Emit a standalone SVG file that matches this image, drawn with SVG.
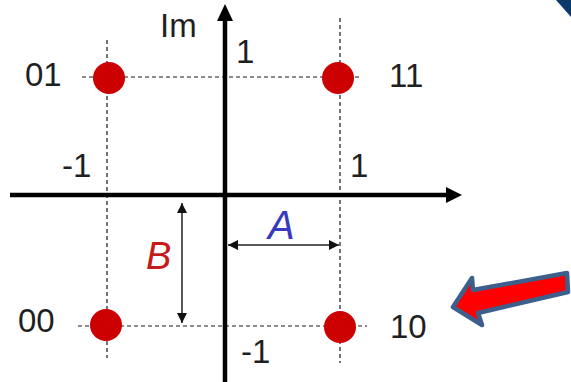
<svg xmlns="http://www.w3.org/2000/svg" width="571" height="382" viewBox="0 0 571 382">
  <defs>
    <style>
      .lbl { font-family: "Liberation Sans", Arial, sans-serif; font-size: 33px; fill: #1f1f1f; }
      .dash { stroke: #1a1a1a; stroke-width: 1.2; stroke-dasharray: 4 3; fill: none; }
      .axis { stroke: #000; stroke-width: 4.5; fill: none; }
      .dim { stroke: #222; stroke-width: 1.5; fill: none; }
      .dot { fill: #cc0000; }
    </style>
    <marker id="ah" viewBox="0 0 10 10" refX="10" refY="5" markerWidth="10" markerHeight="10" markerUnits="userSpaceOnUse" orient="auto-start-reverse">
      <path d="M0,0 L10,5 L0,10 z" fill="#111"/>
    </marker>
  </defs>
  <rect width="571" height="382" fill="#fff"/>
  <polygon points="556,0 571,0 571,17" fill="#0b3a6a"/>

  <g id="connectors">
    <line class="dash" x1="107" y1="40" x2="107" y2="358"/>
    <line class="dash" x1="340" y1="18" x2="340" y2="363"/>
    <line class="dash" x1="82" y1="77" x2="362" y2="77"/>
    <line class="dash" x1="78" y1="326" x2="367" y2="326"/>
    <line class="axis" x1="10" y1="195" x2="448" y2="195"/>
    <polygon points="462,195 446,187 446,203" fill="#000"/>
    <line class="axis" x1="225" y1="382" x2="225" y2="18"/>
    <polygon points="225,4 217,21 233,21" fill="#000"/>
    <line class="dim" x1="228" y1="245" x2="339" y2="245" marker-start="url(#ah)" marker-end="url(#ah)"/>
    <line class="dim" x1="182" y1="203" x2="182" y2="323" marker-start="url(#ah)" marker-end="url(#ah)"/>
  </g>

  <g id="p01"><circle class="dot" cx="109" cy="78" r="16"/><text class="lbl" x="25" y="86">01</text></g>
  <g id="p11"><circle class="dot" cx="338" cy="78" r="16"/><text class="lbl" x="389" y="87">11</text></g>
  <g id="p00"><circle class="dot" cx="106" cy="325" r="16"/><text class="lbl" x="18" y="332">00</text></g>
  <g id="p10"><circle class="dot" cx="340" cy="327" r="16"/><text class="lbl" x="390" y="338">10</text></g>

  <g id="labels">
    <text class="lbl" x="160" y="37">Im</text>
    <text class="lbl" x="236" y="63">1</text>
    <text class="lbl" x="62" y="177">-1</text>
    <text class="lbl" x="350" y="177">1</text>
    <text class="lbl" x="241" y="363">-1</text>
    <text x="268" y="239" style="font-family:'Liberation Sans',Arial,sans-serif;font-size:40px;font-style:italic;fill:#3a3ac0">A</text>
    <text x="146" y="269" style="font-family:'Liberation Sans',Arial,sans-serif;font-size:38px;font-style:italic;fill:#c41a1a">B</text>
  </g>

  <g id="pointer">
    <polygon points="453,307 472,278 473,290 567,273 568,292 478,313 482,325" fill="#ff0000" stroke="#3d5f8c" stroke-width="4.5" stroke-linejoin="round"/>
  </g>
</svg>
